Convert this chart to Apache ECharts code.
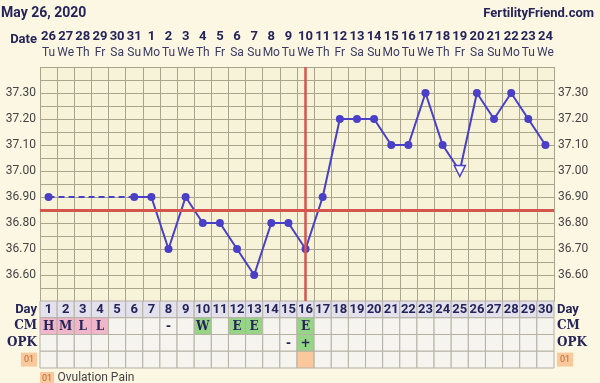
<!DOCTYPE html>
<html>
<head>
<meta charset="utf-8">
<script src="https://cdn.jsdelivr.net/npm/echarts@6/dist/echarts.min.js"></script>
<style>
html,body{margin:0;padding:0;background:#fcf7e3;}
#c{width:600px;height:383px;}
</style>
</head>
<body>
<div id="c"></div>
<script>
// ---- data ----
const dates = ['26','27','28','29','30','31','1','2','3','4','5','6','7','8','9','10','11','12','13','14','15','16','17','18','19','20','21','22','23','24'];
const weekdays = ['Tu','We','Th','Fr','Sa','Su','Mo','Tu','We','Th','Fr','Sa','Su','Mo','Tu','We','Th','Fr','Sa','Su','Mo','Tu','We','Th','Fr','Sa','Su','Mo','Tu','We'];
const cycleDays = ['1','2','3','4','5','6','7','8','9','10','11','12','13','14','15','16','17','18','19','20','21','22','23','24','25','26','27','28','29','30'];
const temps = [36.90,null,null,null,null,36.90,36.90,36.70,36.90,36.80,36.80,36.70,36.60,36.80,36.80,36.70,36.90,37.20,37.20,37.20,37.10,37.10,37.30,37.10,37.00,37.30,37.20,37.30,37.20,37.10];
const openTempDays = [25];
const coverline = 36.85;
const ovulationDay = 16;
const cmObs = ['H','M','L','L','','','','-','','W','','E','E','','','E','','','','','','','','','','','','','',''];
const opkObs = ['','','','','','','','','','','','','','','-','+','','','','','','','','','','','','','',''];
const ovulationPainDays = [16];
const rowNames = ['Day','CM','OPK','01'];
const yTickLabels = ['36.60','36.70','36.80','36.90','37.00','37.10','37.20','37.30'];

// ---- styles ----
const navy = '#25245a';
const blue = '#4a3fc7';
const red = '#d4564f';
const gridGray = '#a9a48c';
const cellStroke = '#b5b1a5';
const pink = '#f2b6ca';
const green = '#96d585';
const orange = '#f9c89c';

const mainData = temps.map((v, i) => {
  if (v === null) return null;
  if (openTempDays.indexOf(i + 1) >= 0) {
    return {value: v, symbol: 'triangle', symbolRotate: 180, symbolSize: 11,
      itemStyle: {color: '#ffffff', borderColor: blue, borderWidth: 1.5}};
  }
  return v;
});
const bridgeData = temps.map((v, i) => {
  if (v === null) return null;
  const prevNull = i > 0 && temps[i - 1] === null && temps.slice(0, i).some(t => t !== null);
  const nextNull = i < temps.length - 1 && temps[i + 1] === null && temps.slice(i + 1).some(t => t !== null);
  return (prevNull || nextNull) ? v : null;
});

const cells = [];
cycleDays.forEach((d, i) => {
  cells.push({x: i, y: 0, text: d, fill: '#e3e2ec'});
  const cm = cmObs[i];
  let cmFill = '#f5f4ef';
  if (cm !== '' && 'HML'.indexOf(cm) >= 0) cmFill = pink;
  if (cm !== '' && 'WE'.indexOf(cm) >= 0) cmFill = green;
  cells.push({x: i, y: 1, text: cm, fill: cmFill});
  const o = opkObs[i];
  cells.push({x: i, y: 2, text: o, fill: o === '+' ? green : '#f5f4ef'});
  cells.push({x: i, y: 3, text: '', fill: ovulationPainDays.indexOf(i + 1) >= 0 ? orange : '#f5f4ef'});
});

const chart = echarts.init(document.getElementById('c'), null, {renderer: 'canvas'});

function yLabel(v) {
  const s = (Math.round(v * 100) / 100).toFixed(2);
  return yTickLabels.indexOf(s) >= 0 ? s : '';
}
const rowRich = {
  s: {fontFamily: 'Roboto', fontWeight: 'bold', fontSize: 13, color: navy},
  f: {fontFamily: 'DejaVu Serif', fontWeight: 'bold', fontSize: 12, color: navy},
  o: {fontFamily: 'Roboto', fontSize: 9, color: '#b86a30', backgroundColor: orange, padding: [3, 3, 2, 3]}
};
const rowFmt = (v) => v === 'Day' ? '{s|Day}' : (v === '01' ? '{o|01}' : '{f|' + v + '}');

chart.setOption({
  animation: false,
  backgroundColor: '#fcf7e3',
  textStyle: {fontFamily: 'Roboto'},
  grid: [
    {left: 40, right: 46, top: 67, height: 234, show: true, backgroundColor: '#f7f3d8', borderWidth: 0},
    {left: 40, right: 46, top: 301, height: 67, show: false}
  ],
  xAxis: [
    {type: 'category', gridIndex: 0, position: 'top', data: dates, boundaryGap: true,
      axisLine: {show: false}, axisTick: {show: false, interval: 0},
      splitLine: {show: true, interval: 0, lineStyle: {color: gridGray, width: 1}},
      axisLabel: {interval: 0, margin: 6,
        formatter: (v, i) => '{d|' + v + '}\n{w|' + weekdays[i] + '}',
        rich: {
          d: {fontFamily: 'Roboto', fontWeight: 'bold', fontSize: 13, color: navy, lineHeight: 16},
          w: {fontFamily: 'Roboto', fontSize: 12, color: '#3a3a66', lineHeight: 16}
        }}},
    {type: 'category', gridIndex: 1, data: cycleDays, boundaryGap: true,
      axisLine: {show: false}, axisTick: {show: false}, axisLabel: {show: false}, splitLine: {show: false}}
  ],
  yAxis: [
    {type: 'value', gridIndex: 0, min: 36.5, max: 37.4, interval: 0.05, position: 'left',
      axisLine: {show: false}, axisTick: {show: false},
      splitLine: {show: true, lineStyle: {color: gridGray, width: 1}},
      axisLabel: {formatter: yLabel, color: '#444', fontSize: 12, margin: 4}},
    {type: 'value', gridIndex: 0, min: 36.5, max: 37.4, interval: 0.05, position: 'right',
      axisLine: {show: false}, axisTick: {show: false}, splitLine: {show: false},
      axisLabel: {formatter: yLabel, color: '#444', fontSize: 12, margin: 4}},
    {type: 'category', gridIndex: 1, data: rowNames, inverse: true, position: 'left',
      axisLine: {show: false}, axisTick: {show: false}, splitLine: {show: false},
      axisLabel: {margin: 3, formatter: rowFmt, rich: rowRich}},
    {type: 'category', gridIndex: 1, data: rowNames, inverse: true, position: 'right',
      axisLine: {show: false}, axisTick: {show: false}, splitLine: {show: false},
      axisLabel: {margin: 3, formatter: rowFmt, rich: rowRich}}
  ],
  series: [
    {type: 'line', xAxisIndex: 0, yAxisIndex: 0, data: [], z: 1, silent: true,
      markLine: {silent: true, symbol: 'none', label: {show: false},
        data: [
          {yAxis: coverline, lineStyle: {color: red, width: 3, type: 'solid'}},
          {xAxis: dates[ovulationDay - 1], lineStyle: {color: red, width: 2.5, type: 'solid'}}
        ]}},
    {type: 'line', xAxisIndex: 0, yAxisIndex: 0, data: bridgeData, connectNulls: true, z: 2,
      symbol: 'none', lineStyle: {color: blue, width: 2, type: [6, 4]}},
    {type: 'line', xAxisIndex: 0, yAxisIndex: 0, data: mainData, connectNulls: false, z: 3,
      symbol: 'circle', symbolSize: 8, showAllSymbol: true,
      itemStyle: {color: blue}, lineStyle: {color: blue, width: 2}},
    {type: 'custom', xAxisIndex: 1, yAxisIndex: 2, z: 2,
      data: cells.map(c => [c.x, c.y]),
      encode: {x: 0, y: 1},
      renderItem: function (params, api) {
        const cell = cells[params.dataIndex];
        const c = api.coord([api.value(0), api.value(1)]);
        const s = api.size([1, 1]);
        const font = cell.y === 0 ? 'bold 13px Roboto' : 'bold 12px "DejaVu Serif"';
        return {type: 'group', children: [
          {type: 'rect', shape: {x: c[0] - s[0] / 2, y: c[1] - s[1] / 2, width: s[0], height: s[1]},
            style: {fill: cell.fill, stroke: cellStroke, lineWidth: 1}},
          {type: 'text', style: {text: cell.text, x: c[0], y: c[1] + 0.5, align: 'center', verticalAlign: 'middle',
            font: font, fill: navy}}
        ]};
      }}
  ],
  graphic: [
    {type: 'text', left: 1, top: 6, style: {text: 'May 26, 2020', font: 'bold 14px Roboto', fill: navy}},
    {type: 'text', right: 6, top: 7, style: {text: 'FertilityFriend.com', font: 'bold 13px Roboto', fill: navy}},
    {type: 'text', right: 563, top: 33, style: {text: 'Date', font: 'bold 13px Roboto', fill: navy}},
    {type: 'text', left: 40, top: 372, style: {text: '{o|01} {t|Ovulation Pain}', rich: {
      o: {fontFamily: 'Roboto', fontSize: 9, fill: '#b86a30', backgroundColor: orange, padding: [2, 2, 1, 2]},
      t: {fontFamily: 'Roboto', fontSize: 12, fill: '#444'}
    }}}
  ]
});
</script>
</body>
</html>
